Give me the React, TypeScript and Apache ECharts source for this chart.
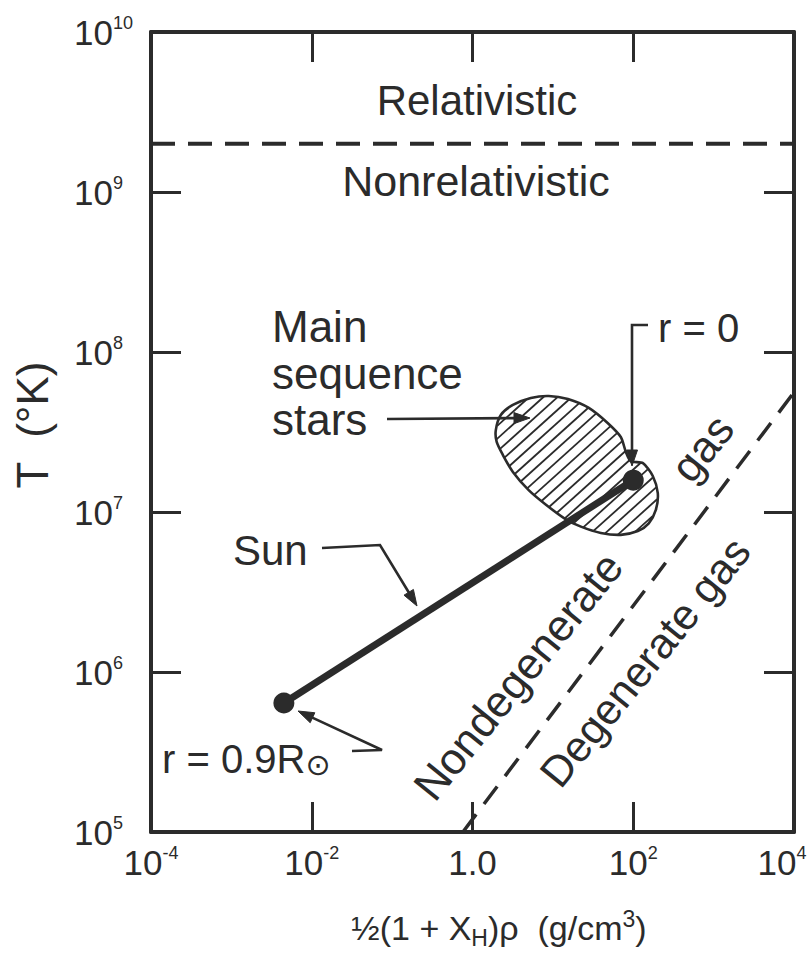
import React, { useEffect, useRef } from 'react';
import * as echarts from 'echarts';

const FONT = '"Liberation Sans", Arial, Helvetica, "DejaVu Sans", sans-serif';
const INK = '#2b2b2b';

// ---- axis ticks / labels ----
const densityLabelValues = [1e-4, 1e-2, 1, 1e2, 1e4];
const densityTickValues = [1e-2, 1, 1e2];
const temperatureLabelValues = [1e5, 1e6, 1e7, 1e8, 1e9, 1e10];
const temperatureTickValues = [1e6, 1e7, 1e8, 1e9];

// ---- relativistic / nonrelativistic boundary ----
const relativisticRho = [1e-4, 1e4];
const relativisticT = [2e9, 2e9];

// ---- degenerate / nondegenerate boundary ----
const degeneracyRho = [0.76, 1e4];
const degeneracyT = [1e5, 5.6e7];

// ---- the Sun, from r = 0.9 R_sun to r = 0 ----
const sunRho = [4.5e-3, 100];
const sunT = [6.4e5, 1.58e7];

// ---- main sequence stars region outline ----
const msRho = [1.95, 2.25, 3.18, 5.32, 8.9, 15.4, 28, 48, 70, 81, 93, 132, 175, 202, 191, 156, 114, 70, 39.5, 22.3, 14.5, 8.2, 5.0, 3.18, 2.39, 2.0];
const msT = [3.25e7, 4.04e7, 4.67e7, 5.16e7, 5.31e7, 5.08e7, 4.47e7, 3.6e7, 2.94e7, 2.37e7, 2.08e7, 2.02e7, 1.68e7, 1.31e7, 1.03e7, 8.5e6, 7.6e6, 7.2e6, 7.4e6, 8.1e6, 9.0e6, 1.11e7, 1.37e7, 1.78e7, 2.27e7, 2.74e7];

const pairs = (xs: number[], ys: number[]) => xs.map((x, i) => [x, ys[i]]);

function xLabel(v: number) {
  const e = Math.round(Math.log10(v));
  if (e === 0) return '{b|1.0}';
  if (v >= densityLabelValues[densityLabelValues.length - 1]) return '{b|10}{se|' + e + '}';
  return '{b|10}{s|' + e + '}';
}

function yLabel(v: number) {
  const e = Math.round(Math.log10(v));
  const tag = String(e).length > 1 ? 's2' : 's1';
  return '{b|10}{' + tag + '|' + e + '}';
}

function arrow(pts: number[][], head = 16, half = 5.5, lw = 2.6) {
  const n = pts.length;
  const tip = pts[n - 1];
  const prev = pts[n - 2];
  const vx = tip[0] - prev[0];
  const vy = tip[1] - prev[1];
  const len = Math.hypot(vx, vy);
  const ux = vx / len;
  const uy = vy / len;
  const bx = tip[0] - ux * head;
  const by = tip[1] - uy * head;
  const line = pts.slice(0, n - 1).concat([[bx + ux * 2, by + uy * 2]]);
  return [
    { type: 'polyline', shape: { points: line }, style: { stroke: INK, lineWidth: lw, fill: null }, z: 20 },
    {
      type: 'polygon',
      shape: { points: [tip, [bx - uy * half, by + ux * half], [bx + uy * half, by - ux * half]] },
      style: { fill: INK, stroke: INK, lineWidth: 1 },
      z: 20,
    },
  ];
}

function txt(text: string, x: number, y: number, size: number, extra: any = {}, rotDeg = 0) {
  return {
    type: 'text',
    x,
    y,
    rotation: (rotDeg * Math.PI) / 180,
    z: 20,
    style: {
      text,
      fontSize: size,
      fontFamily: FONT,
      fill: INK,
      align: 'center',
      verticalAlign: 'middle',
      ...extra,
    },
  };
}

export default function App() {
  const ref = useRef<HTMLDivElement>(null);

  useEffect(() => {
    if (!ref.current) return;
    const chart = echarts.init(ref.current, undefined, { renderer: 'svg' });

    const axisLineStyle = { color: INK, width: 4 };
    const tickStyle = { color: INK, width: 3 };

    const supBase = { fontSize: 18, fontFamily: FONT, color: INK, lineHeight: 14, verticalAlign: 'top' };
    const xRich = {
      b: { fontSize: 35, fontFamily: FONT, color: INK, lineHeight: 36 },
      s: { ...supBase },
      se: { ...supBase, padding: [0, 24, 0, 0] },
    };
    const yRich = {
      b: { fontSize: 35, fontFamily: FONT, color: INK, lineHeight: 36 },
      s1: { ...supBase, padding: [0, 18, 0, 0] },
      s2: { ...supBase, padding: [0, 8, 0, 0] },
    };

    const hatchAngle = (42 * Math.PI) / 180;
    const hatchGap = 9.5;

    const option: any = {
      animation: false,
      backgroundColor: '#fff',
      grid: { left: 151, top: 32, width: 643, height: 800, outerBoundsMode: 'none' },
      xAxis: [
        {
          type: 'log',
          logBase: 10,
          min: 1e-4,
          max: 1e4,
          position: 'bottom',
          axisLine: { show: true, lineStyle: axisLineStyle },
          axisTick: { show: true, inside: true, length: 30, lineStyle: tickStyle, customValues: densityTickValues },
          axisLabel: {
            show: true,
            margin: 12,
            customValues: densityLabelValues,
            formatter: (v: number) => xLabel(v),
            rich: xRich,
          },
          splitLine: { show: false },
          minorTick: { show: false },
        },
        {
          type: 'log',
          logBase: 10,
          min: 1e-4,
          max: 1e4,
          position: 'top',
          axisLine: { show: true, lineStyle: axisLineStyle },
          axisTick: { show: true, inside: true, length: 30, lineStyle: tickStyle, customValues: densityTickValues },
          axisLabel: { show: false },
          splitLine: { show: false },
        },
      ],
      yAxis: [
        {
          type: 'log',
          logBase: 10,
          min: 1e5,
          max: 1e10,
          position: 'left',
          axisLine: { show: true, lineStyle: axisLineStyle },
          axisTick: { show: true, inside: true, length: 30, lineStyle: tickStyle, customValues: temperatureTickValues },
          axisLabel: {
            show: true,
            margin: 10,
            customValues: temperatureLabelValues,
            formatter: (v: number) => yLabel(v),
            rich: yRich,
          },
          splitLine: { show: false },
        },
        {
          type: 'log',
          logBase: 10,
          min: 1e5,
          max: 1e10,
          position: 'right',
          axisLine: { show: true, lineStyle: axisLineStyle },
          axisTick: { show: true, inside: true, length: 30, lineStyle: tickStyle, customValues: temperatureTickValues },
          axisLabel: { show: false },
          splitLine: { show: false },
        },
      ],
      series: [
        {
          name: 'Main sequence stars',
          type: 'custom',
          xAxisIndex: 0,
          yAxisIndex: 0,
          z: 2,
          data: pairs(msRho, msT),
          renderItem: (params: any, api: any) => {
            if (params.dataIndex !== 0) return null;
            const pts = msRho.map((r, i) => api.coord([r, msT[i]]));
            const children: any[] = [];
            children.push({ type: 'polygon', shape: { points: pts }, style: { fill: '#fff', stroke: null } });
            const dx = Math.cos(hatchAngle);
            const dy = -Math.sin(hatchAngle);
            const nx = Math.sin(hatchAngle);
            const ny = Math.cos(hatchAngle);
            const ss = pts.map((p: number[]) => p[0] * nx + p[1] * ny);
            const smin = Math.min(...ss);
            const smax = Math.max(...ss);
            for (let s = smin + hatchGap * 0.6; s < smax; s += hatchGap) {
              const hits: number[][] = [];
              for (let i = 0; i < pts.length; i++) {
                const j = (i + 1) % pts.length;
                const sa = ss[i];
                const sb = ss[j];
                if ((sa - s) * (sb - s) < 0) {
                  const t = (s - sa) / (sb - sa);
                  hits.push([pts[i][0] + t * (pts[j][0] - pts[i][0]), pts[i][1] + t * (pts[j][1] - pts[i][1])]);
                }
              }
              hits.sort((p, q) => p[0] * dx + p[1] * dy - (q[0] * dx + q[1] * dy));
              for (let k = 0; k + 1 < hits.length; k += 2) {
                children.push({
                  type: 'line',
                  shape: { x1: hits[k][0], y1: hits[k][1], x2: hits[k + 1][0], y2: hits[k + 1][1] },
                  style: { stroke: INK, lineWidth: 1.8 },
                });
              }
            }
            children.push({
              type: 'polygon',
              shape: { points: pts, smooth: 0.25 },
              style: { fill: null, stroke: INK, lineWidth: 2.6 },
            });
            return { type: 'group', children };
          },
        },
        {
          name: 'Relativistic boundary',
          type: 'line',
          z: 3,
          data: pairs(relativisticRho, relativisticT),
          showSymbol: false,
          symbol: 'none',
          lineStyle: { color: INK, width: 4, type: [24, 13] },
        },
        {
          name: 'Degeneracy boundary',
          type: 'line',
          z: 3,
          data: pairs(degeneracyRho, degeneracyT),
          showSymbol: false,
          symbol: 'none',
          lineStyle: { color: INK, width: 3.5, type: [22, 13] },
        },
        {
          name: 'Sun',
          type: 'line',
          z: 4,
          data: pairs(sunRho, sunT),
          symbol: 'circle',
          symbolSize: 21,
          showSymbol: true,
          itemStyle: { color: INK },
          lineStyle: { color: INK, width: 7 },
        },
      ],
      graphic: [
        txt('Relativistic', 477, 100, 42),
        txt('Nonrelativistic', 476, 181, 43),
        txt('Main', 272, 326, 44, { align: 'left' }),
        txt('sequence', 272, 373, 44, { align: 'left' }),
        txt('stars', 272, 419, 44, { align: 'left' }),
        txt('r = 0', 658, 328, 40, { align: 'left' }),
        txt('Sun', 233, 550, 42, { align: 'left' }),
        {
          type: 'text',
          x: 162,
          y: 759,
          z: 20,
          style: {
            text: 'r = 0.9R{sub|⊙}',
            fontSize: 40,
            fontFamily: FONT,
            fill: INK,
            align: 'left',
            verticalAlign: 'middle',
            lineHeight: 40,
            rich: {
              sub: { fontSize: 30, fontFamily: '"DejaVu Sans", sans-serif', fill: INK, lineHeight: 30, verticalAlign: 'bottom' },
            },
          },
        },
        txt('Nondegenerate', 518, 676, 44, {}, 51),
        txt('gas', 702, 448, 44, {}, 51),
        txt('Degenerate gas', 645, 662, 43, {}, 51),
        txt('T  (°K)', 32, 425, 44, {}, 90),
        {
          type: 'text',
          x: 499,
          y: 928,
          z: 20,
          style: {
            text: '½(1 + X{sub|H})ρ  (g/cm{sup|3})',
            fontSize: 34,
            fontFamily: FONT,
            fill: INK,
            align: 'center',
            verticalAlign: 'middle',
            lineHeight: 42,
            rich: {
              sub: { fontSize: 23, fontFamily: FONT, fill: INK, lineHeight: 24, verticalAlign: 'bottom' },
              sup: { fontSize: 23, fontFamily: FONT, fill: INK, lineHeight: 24, verticalAlign: 'top' },
            },
          },
        },
        ...arrow([[387, 419], [530, 418]]),
        ...arrow([[648, 325], [632, 325], [632, 466]]),
        ...arrow([[322, 548], [380, 545], [417, 606]]),
        ...arrow([[352, 751], [382, 750], [298, 711]]),
      ],
    };

    chart.setOption(option);
    return () => chart.dispose();
  }, []);

  return <div ref={ref} style={{ position: 'absolute', left: 0, top: 0, width: 812, height: 963 }} />;
}
